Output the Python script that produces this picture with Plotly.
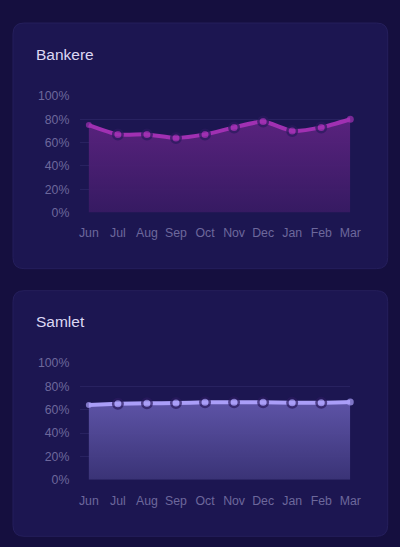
import plotly.graph_objects as go

W, H = 400, 547
# the photographed page comes out shrunk a little and pushed down, so the
# target pixel positions below are mapped back through that
S, OY = 0.972, 7.0

months = ["Jun", "Jul", "Aug", "Sep", "Oct", "Nov", "Dec", "Jan", "Feb", "Mar"]
bankere = [75, 67, 67, 64, 67, 73, 78, 70, 73, 80]
samlet = [64, 65, 65.5, 65.7, 66.3, 66.3, 66.3, 66, 66, 66.6]
y_ticks = [0, 20, 40, 60, 80, 100]
y_labels = ["0%", "20%", "40%", "60%", "80%", "100%"]
titles = ["Bankere", "Samlet"]

page_bg = "#150f3f"
card_bg = "#1c1651"
card_line = "#251f5c"
tick_col = "#6d689c"
grid_col = "#282260"


def px(x):
    return min(1.0, (x / S) / W)


def py(y):
    return max(0.0, 1 - ((y - OY) / S) / H)


def rounded_rect(x0, y0, x1, y1, r):
    # pixel box -> paper path with rounded corners
    p = []
    p.append("M %f,%f" % (px(x0 + r), py(y0)))
    p.append("L %f,%f" % (px(x1 - r), py(y0)))
    p.append("Q %f,%f %f,%f" % (px(x1), py(y0), px(x1), py(y0 + r)))
    p.append("L %f,%f" % (px(x1), py(y1 - r)))
    p.append("Q %f,%f %f,%f" % (px(x1), py(y1), px(x1 - r), py(y1)))
    p.append("L %f,%f" % (px(x0 + r), py(y1)))
    p.append("Q %f,%f %f,%f" % (px(x0), py(y1), px(x0), py(y1 - r)))
    p.append("L %f,%f" % (px(x0), py(y0 + r)))
    p.append("Q %f,%f %f,%f" % (px(x0), py(y0), px(x0 + r), py(y0)))
    p.append("Z")
    return " ".join(p)


fig = go.Figure()

cards = [(12, 23, 387.5, 268), (12, 290, 387.5, 535)]
plots = [(79, 95.7, 350, 212), (79, 362, 350, 478.7)]
series = [bankere, samlet]
line_cols = ["#a030b2", "#aa9ef8"]
grads = [
    [[0, "rgba(54,26,98,0.95)"], [1, "rgba(92,35,128,0.95)"]],
    [[0, "rgba(58,51,118,0.95)"], [1, "rgba(96,86,170,0.95)"]],
]

shapes = []
annotations = []

for i in range(2):
    cx0, cy0, cx1, cy1 = cards[i]
    shapes.append(dict(type="path", xref="paper", yref="paper",
                       path=rounded_rect(cx0, cy0, cx1, cy1, 11),
                       fillcolor=card_bg, line=dict(color=card_line, width=1),
                       layer="below"))
    annotations.append(dict(text=titles[i], xref="paper", yref="paper",
                            x=px(33), y=py(cy0 + 31), xanchor="left", yanchor="middle",
                            showarrow=False,
                            font=dict(size=15.5, color="#dcd8f4",
                                      family="Liberation Sans, Arial, sans-serif")))

    ax = "" if i == 0 else str(i + 1)
    n = len(months)
    sizes = [6] + [9.5] * (n - 2) + [7]
    widths = [0] + [2.5] * (n - 2) + [0]
    fig.add_trace(go.Scatter(
        x=months, y=series[i], xaxis="x" + ax, yaxis="y" + ax,
        mode="lines+markers", fill="tozeroy",
        line=dict(color=line_cols[i], width=4, shape="spline", smoothing=0.6),
        marker=dict(size=sizes, color=line_cols[i],
                    line=dict(color="#2a1a5e", width=widths)),
        fillgradient=dict(type="vertical", start=0, stop=max(series[i]),
                          colorscale=grads[i]),
        cliponaxis=False, hoverinfo="skip", showlegend=False))

    x0, y0, x1, y1 = plots[i]
    xa = dict(domain=[px(x0), px(x1)], range=[-0.31, n - 1], type="category",
              showgrid=False, zeroline=False, showline=False,
              ticks="outside", ticklen=9, tickcolor="rgba(0,0,0,0)",
              tickfont=dict(size=12.3, color=tick_col), fixedrange=True,
              anchor="y" + ax)
    ya = dict(domain=[py(y1), py(y0)], range=[0, 100], tickvals=y_ticks,
              ticktext=y_labels, showgrid=True, gridcolor=grid_col, gridwidth=1,
              zeroline=False, showline=False,
              ticks="outside", ticklen=7, tickcolor="rgba(0,0,0,0)",
              tickfont=dict(size=12.3, color=tick_col), fixedrange=True,
              anchor="x" + ax)
    if i == 0:
        fig.update_layout(xaxis=xa, yaxis=ya)
    else:
        fig.update_layout(xaxis2=xa, yaxis2=ya)

fig.update_layout(
    width=W, height=H, autosize=False,
    margin=dict(l=0, r=0, t=0, b=0),
    paper_bgcolor=page_bg, plot_bgcolor="rgba(0,0,0,0)",
    font=dict(family="Liberation Sans, Arial, sans-serif"),
    shapes=shapes, annotations=annotations,
)

# pin the figure to the window corner, same background all round
pin = (
    "var r=document.documentElement, b=document.body, d=document.getElementById('{plot_id}');"
    "r.style.margin='0'; r.style.overflow='hidden'; r.style.background='%s';"
    "b.style.margin='0'; b.style.overflow='hidden'; b.style.background='%s';"
    "d.style.position='fixed'; d.style.left='0'; d.style.top='0';" % (page_bg, page_bg)
)
fig.write_html("out.html", config={"displayModeBar": False}, post_script=pin)
